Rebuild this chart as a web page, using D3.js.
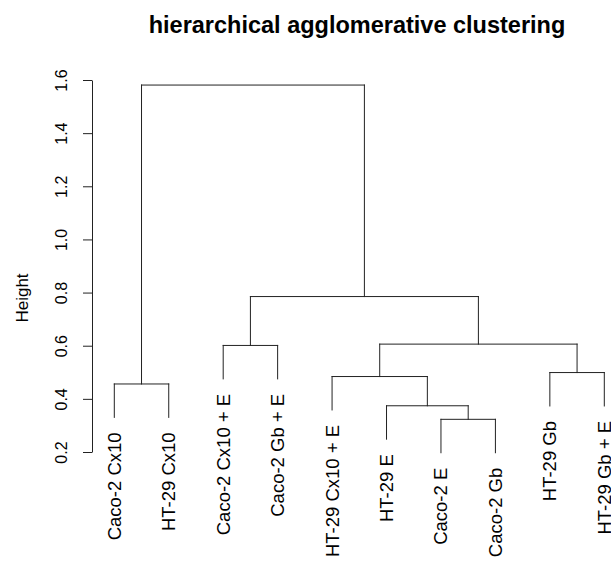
<!DOCTYPE html>
<html>
<head>
<meta charset="utf-8">
<script src="https://cdn.jsdelivr.net/npm/d3@7"></script>
<style>
  body { margin: 0; background: #fff; }
  svg { display: block; font-family: "Liberation Sans", Arial, sans-serif; }
</style>
</head>
<body>
<script>
// leaves in plotting order
var leafLabels = ["Caco-2 Cx10", "HT-29 Cx10", "Caco-2 Cx10 + E", "Caco-2 Gb + E",
    "HT-29 Cx10 + E", "HT-29 E", "Caco-2 E", "Caco-2 Gb", "HT-29 Gb", "HT-29 Gb + E"];

// hclust style merges: negative = leaf (1-based), positive = earlier merge row
var mergeLeft  = [-7, -6, -1, -5, -9, -3, 4, 6, 3];
var mergeRight = [-8,  1, -2,  2, -10, -4, 5, 7, 8];
var mergeHeight = [0.323, 0.374, 0.456, 0.484, 0.499, 0.601, 0.606, 0.785, 1.581];

var yTicks = [0.2, 0.4, 0.6, 0.8, 1.0, 1.2, 1.4, 1.6];
var hang = 0.1;

var svgWidth = 611;
var svgHeight = 564;

var svg = d3.select("body")
    .append("svg")
    .attr("width", svgWidth)
    .attr("height", svgHeight);

var xScale = d3.scaleLinear()
    .domain([1, leafLabels.length])
    .range([114.3, 604.3]);

var yScale = d3.scaleLinear()
    .domain([0.2, 1.6])
    .range([452, 80]);

var hangAmount = hang * (d3.max(mergeHeight) - d3.min(mergeHeight));

// node x positions
var nodeX = [];
function childX(i) {
    return i < 0 ? -i : nodeX[i - 1];
}
mergeLeft.forEach(function (l, k) {
    nodeX.push((childX(l) + childX(mergeRight[k])) / 2);
});

var lines = [];
var leafBottoms = [];
mergeLeft.forEach(function (l, k) {
    var h = mergeHeight[k];
    [l, mergeRight[k]].forEach(function (c) {
        var bottom;
        if (c < 0) {
            bottom = h - hangAmount;
            leafBottoms[-c - 1] = bottom;
        } else {
            bottom = mergeHeight[c - 1];
        }
        lines.push({ x1: childX(c), y1: h, x2: childX(c), y2: bottom });
    });
    lines.push({ x1: childX(l), y1: h, x2: childX(mergeRight[k]), y2: h });
});

svg.append("g")
    .selectAll("line")
    .data(lines)
    .enter()
    .append("line")
    .attr("x1", d => xScale(d.x1))
    .attr("x2", d => xScale(d.x2))
    .attr("y1", d => yScale(d.y1))
    .attr("y2", d => yScale(d.y2))
    .attr("stroke", "#222")
    .attr("stroke-width", 1)
    .attr("stroke-linecap", "square");

// leaf labels
svg.append("g")
    .selectAll("text")
    .data(leafLabels)
    .enter()
    .append("text")
    .attr("transform", (d, i) => `translate(${xScale(i + 1)}, ${yScale(leafBottoms[i]) + 15}) rotate(-90)`)
    .attr("text-anchor", "end")
    .attr("dy", "0.35em")
    .attr("font-size", 18.5)
    .attr("fill", "#000")
    .text(d => d);

// y axis
var axisG = svg.append("g")
    .attr("transform", "translate(92, 0)")
    .call(d3.axisLeft(yScale).tickValues(yTicks).tickSize(9).tickSizeOuter(0).tickFormat(d3.format(".1f")));

axisG.select(".domain").attr("stroke", "#222");
axisG.selectAll(".tick line").attr("stroke", "#222");
axisG.selectAll(".tick text")
    .attr("transform", "rotate(-90)")
    .attr("x", 0)
    .attr("y", -25)
    .attr("dy", 0)
    .attr("text-anchor", "middle")
    .attr("font-size", 16)
    .attr("font-family", "Liberation Sans, Arial, sans-serif")
    .attr("fill", "#000");

svg.append("text")
    .attr("transform", "translate(28, 298) rotate(-90)")
    .attr("text-anchor", "middle")
    .attr("font-size", 17)
    .text("Height");

svg.append("text")
    .attr("x", 357)
    .attr("y", 33)
    .attr("text-anchor", "middle")
    .attr("font-size", 23.5)
    .attr("font-weight", "bold")
    .text("hierarchical agglomerative clustering");
</script>
</body>
</html>
